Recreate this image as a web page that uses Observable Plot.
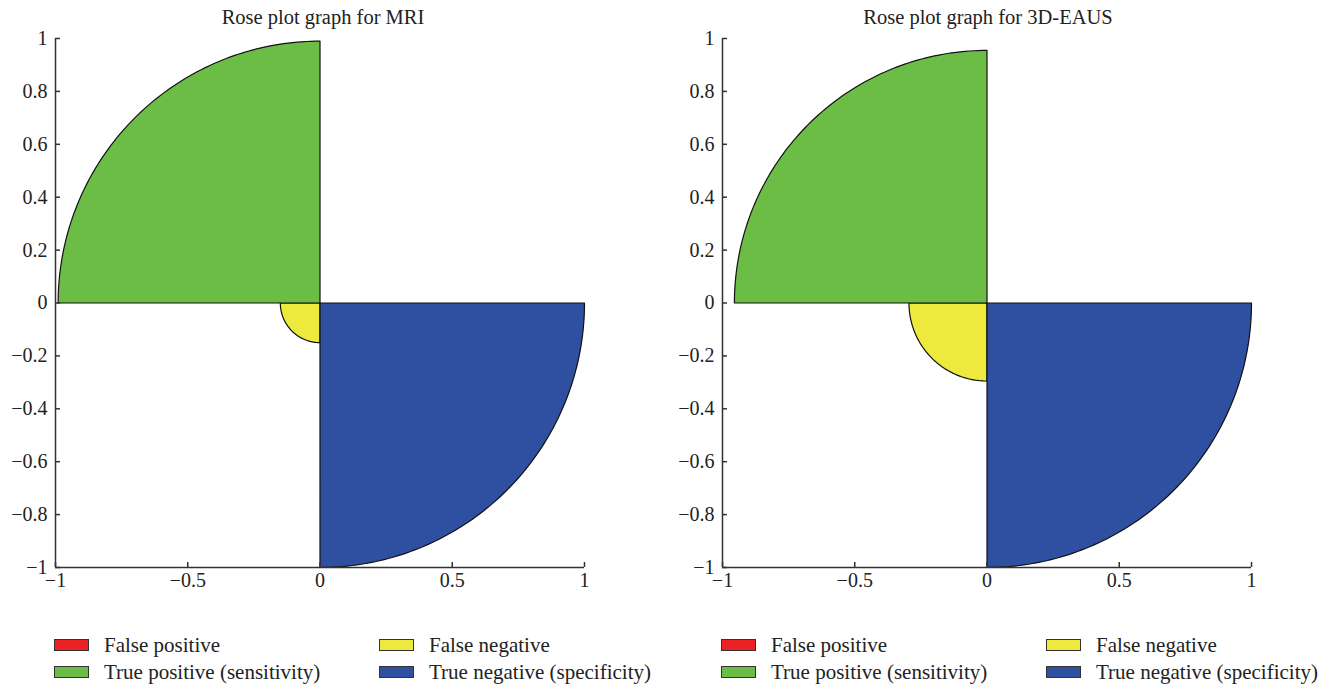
<!DOCTYPE html>
<html>
<head>
<meta charset="utf-8">
<script src="https://cdn.jsdelivr.net/npm/d3@7"></script>
<script src="https://cdn.jsdelivr.net/npm/@observablehq/plot@0.6"></script>
<style>
  html, body { margin: 0; padding: 0; background: #fff; }
  #root { position: relative; width: 1328px; height: 686px; font-family: "Liberation Serif", serif; color: #222; overflow: hidden; }
  .title { position: absolute; width: 400px; text-align: center; font-size: 20.5px; line-height: 24px; top: 5px; }
  .panel { position: absolute; top: 30px; }
  .leg { position: absolute; font-size: 21px; line-height: 24px; white-space: nowrap; }
  .sw { position: absolute; width: 33px; height: 10px; border: 1px solid #333; }
</style>
</head>
<body>
<div id="root"></div>
<script>
// ---- data ----
const categories = ["False positive", "False negative", "True positive (sensitivity)", "True negative (specificity)"];
const colors = ["#ED2024", "#EEEA3D", "#6CBD45", "#2F4FA0"];
// quadrant of each category (0: I, 1: II, 2: III, 3: IV)
const quadrant = [0, 2, 1, 3];
const titles = ["Rose plot graph for MRI", "Rose plot graph for 3D-EAUS"];
const mriValues = [0, 0.15, 0.99, 1.0];
const eausValues = [0, 0.295, 0.955, 1.0];
const xTicks = [-1, -0.5, 0, 0.5, 1];
const yTicks = [-1, -0.8, -0.6, -0.4, -0.2, 0, 0.2, 0.4, 0.6, 0.8, 1];

const root = document.getElementById("root");
const fmt = d3.format("~g");

function wedge(r, q) {
  const pts = [{x: 0, y: 0}];
  const a0 = q * Math.PI / 2, a1 = (q + 1) * Math.PI / 2;
  const n = 90;
  for (let i = 0; i <= n; i++) {
    const a = a0 + (a1 - a0) * i / n;
    pts.push({x: r * Math.cos(a), y: r * Math.sin(a)});
  }
  pts.push({x: 0, y: 0});
  return pts;
}

function panel(values, left, marginLeft, marginRight, title, titleCenter, legendCols) {
  const marks = [];
  categories.forEach((c, i) => {
    if (values[i] > 0) {
      marks.push(Plot.line(wedge(values[i], quadrant[i]), {
        x: "x", y: "y", fill: colors[i], stroke: "#111", strokeWidth: 1.2, curve: "linear"
      }));
    }
  });
  marks.push(Plot.ruleX([-1], {stroke: "#333", strokeWidth: 1.5}));
  marks.push(Plot.ruleY([-1], {stroke: "#333", strokeWidth: 1.5}));
  marks.push(Plot.axisY({ticks: yTicks, tickFormat: fmt, tickSize: -5, tickPadding: 13, label: null, stroke: "#333", strokeWidth: 1.5}));
  marks.push(Plot.axisX({ticks: xTicks, tickFormat: fmt, tickSize: -5, tickPadding: 10, label: null, stroke: "#333", strokeWidth: 1.5}));
  const svg = Plot.plot({
    width: 664, height: 570,
    marginLeft, marginRight, marginTop: 8, marginBottom: 33,
    x: {domain: [-1, 1], label: null},
    y: {domain: [-1, 1], label: null},
    style: {fontFamily: "Liberation Serif, serif", fontSize: "20px", color: "#222", background: "transparent", overflow: "visible"},
    marks
  });
  const wrap = document.createElement("div");
  wrap.className = "panel";
  wrap.style.left = left + "px";
  wrap.appendChild(svg);
  root.appendChild(wrap);

  const t = document.createElement("div");
  t.className = "title";
  t.style.left = (titleCenter - 200) + "px";
  t.textContent = title;
  root.appendChild(t);

  // legend: two columns, two rows
  const order = [[0, 2], [1, 3]]; // column -> category indices
  order.forEach((col, ci) => {
    col.forEach((idx, ri) => {
      const top = 639 + ri * 27;
      const sw = document.createElement("div");
      sw.className = "sw";
      sw.style.left = legendCols[ci] + "px";
      sw.style.top = top + "px";
      sw.style.background = colors[idx];
      root.appendChild(sw);
      const lab = document.createElement("div");
      lab.className = "leg";
      lab.style.left = (legendCols[ci] + 50) + "px";
      lab.style.top = (top - 6) + "px";
      lab.textContent = categories[idx];
      root.appendChild(lab);
    });
  });
}

panel(mriValues, 0, 55, 80, titles[0], 323, [54, 379]);
panel(eausValues, 664, 58, 77, titles[1], 988, [721, 1046]);
</script>
</body>
</html>
